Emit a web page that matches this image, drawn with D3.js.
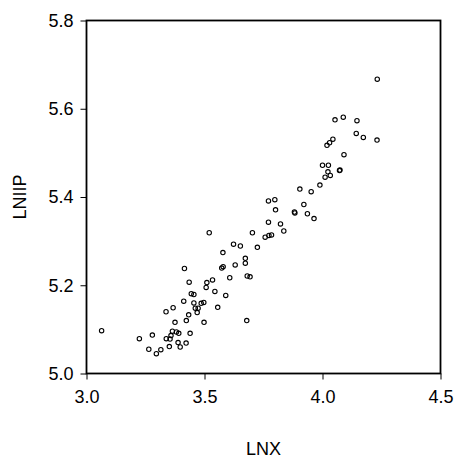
<!DOCTYPE html>
<html>
<head>
<meta charset="utf-8">
<script src="https://cdn.jsdelivr.net/npm/d3@7"></script>
<style>
  body { margin: 0; background: #fff; }
  svg text { font-family: "Liberation Sans", Arial, sans-serif; fill: #000; }
</style>
</head>
<body>
<div id="chart"></div>
<script>
// LNX vs LNIIP scatter
const lnx = [
  3.064, 3.224, 3.279, 3.264, 3.296, 3.315, 3.351, 3.338, 3.354, 3.358,
  3.364, 3.381, 3.391, 3.388, 3.397, 3.422, 3.439, 3.375, 3.337, 3.367,
  3.423, 3.433, 3.412, 3.435, 3.415, 3.444, 3.455, 3.455, 3.461, 3.473,
  3.469, 3.486, 3.497, 3.498, 3.507, 3.510, 3.534, 3.544, 3.556, 3.590,
  3.607, 3.573, 3.579, 3.578, 3.630, 3.673, 3.673, 3.681, 3.693, 3.679,
  3.520, 3.623, 3.652, 3.703, 3.724, 3.757, 3.773, 3.784, 3.771, 3.822,
  3.836, 3.801, 3.771, 3.798, 3.881, 3.883, 3.921, 3.936, 3.964, 3.904,
  3.952, 3.989, 4.011, 4.033, 4.023, 4.000, 4.025, 4.072, 4.074, 4.091,
  4.019, 4.030, 4.044, 4.053, 4.088, 4.146, 4.143, 4.173, 4.231, 4.232
];
const lniip = [
  5.097, 5.079, 5.087, 5.055, 5.045, 5.054, 5.061, 5.079, 5.078, 5.086,
  5.096, 5.094, 5.091, 5.070, 5.060, 5.069, 5.091, 5.116, 5.140, 5.149,
  5.120, 5.133, 5.164, 5.207, 5.238, 5.181, 5.179, 5.160, 5.148, 5.148,
  5.138, 5.159, 5.161, 5.116, 5.195, 5.206, 5.212, 5.186, 5.150, 5.177,
  5.217, 5.239, 5.242, 5.274, 5.246, 5.261, 5.250, 5.221, 5.219, 5.120,
  5.319, 5.293, 5.289, 5.319, 5.286, 5.309, 5.313, 5.314, 5.343, 5.339,
  5.323, 5.371, 5.391, 5.394, 5.366, 5.364, 5.383, 5.362, 5.351, 5.418,
  5.412, 5.427, 5.445, 5.449, 5.457, 5.472, 5.472, 5.460, 5.461, 5.496,
  5.517, 5.523, 5.531, 5.575, 5.581, 5.573, 5.544, 5.535, 5.529, 5.667
];
const xTicks = [3.0, 3.5, 4.0, 4.5];
const yTicks = [5.0, 5.2, 5.4, 5.6, 5.8];

const W = 457, H = 463;
const m = { left: 86.5, top: 20.5, right: 16.5, bottom: 89.5 };
const iw = W - m.left - m.right, ih = H - m.top - m.bottom;

const svg = d3.select("#chart").append("svg").attr("width", W).attr("height", H);
const g = svg.append("g").attr("transform", `translate(${m.left},${m.top})`);

const x = d3.scaleLinear().domain([3.0, 4.5]).range([0, iw]);
const y = d3.scaleLinear().domain([5.0, 5.8]).range([ih, 0]);

const xAxis = g.append("g").attr("transform", `translate(0,${ih})`)
  .call(d3.axisBottom(x).tickValues(xTicks).tickFormat(d3.format(".1f")).tickSize(6).tickPadding(10.5));
const yAxis = g.append("g")
  .call(d3.axisLeft(y).tickValues(yTicks).tickFormat(d3.format(".1f")).tickSize(6).tickPadding(7));

[xAxis, yAxis].forEach(a => {
  a.select(".domain").remove();
  a.selectAll("line").attr("stroke", "#000").attr("stroke-width", 1);
  a.selectAll("text").attr("font-size", 18).attr("font-family", "Liberation Sans, Arial, sans-serif");
});

// frame
g.append("rect").attr("width", iw).attr("height", ih)
  .attr("fill", "none").attr("stroke", "#000").attr("stroke-width", 1.8);

g.selectAll("circle.pt").data(d3.range(lnx.length)).enter().append("circle")
  .attr("class", "pt")
  .attr("cx", i => x(lnx[i]))
  .attr("cy", i => y(lniip[i]))
  .attr("r", 2.2)
  .attr("fill", "none")
  .attr("stroke", "#000")
  .attr("stroke-width", 1.1);

svg.append("text").attr("x", m.left + iw / 2).attr("y", 455)
  .attr("text-anchor", "middle").attr("font-size", 18).text("LNX");

svg.append("text").attr("transform", `translate(25.5,${m.top + ih / 2}) rotate(-90)`)
  .attr("text-anchor", "middle").attr("font-size", 18).text("LNIIP");
</script>
</body>
</html>
